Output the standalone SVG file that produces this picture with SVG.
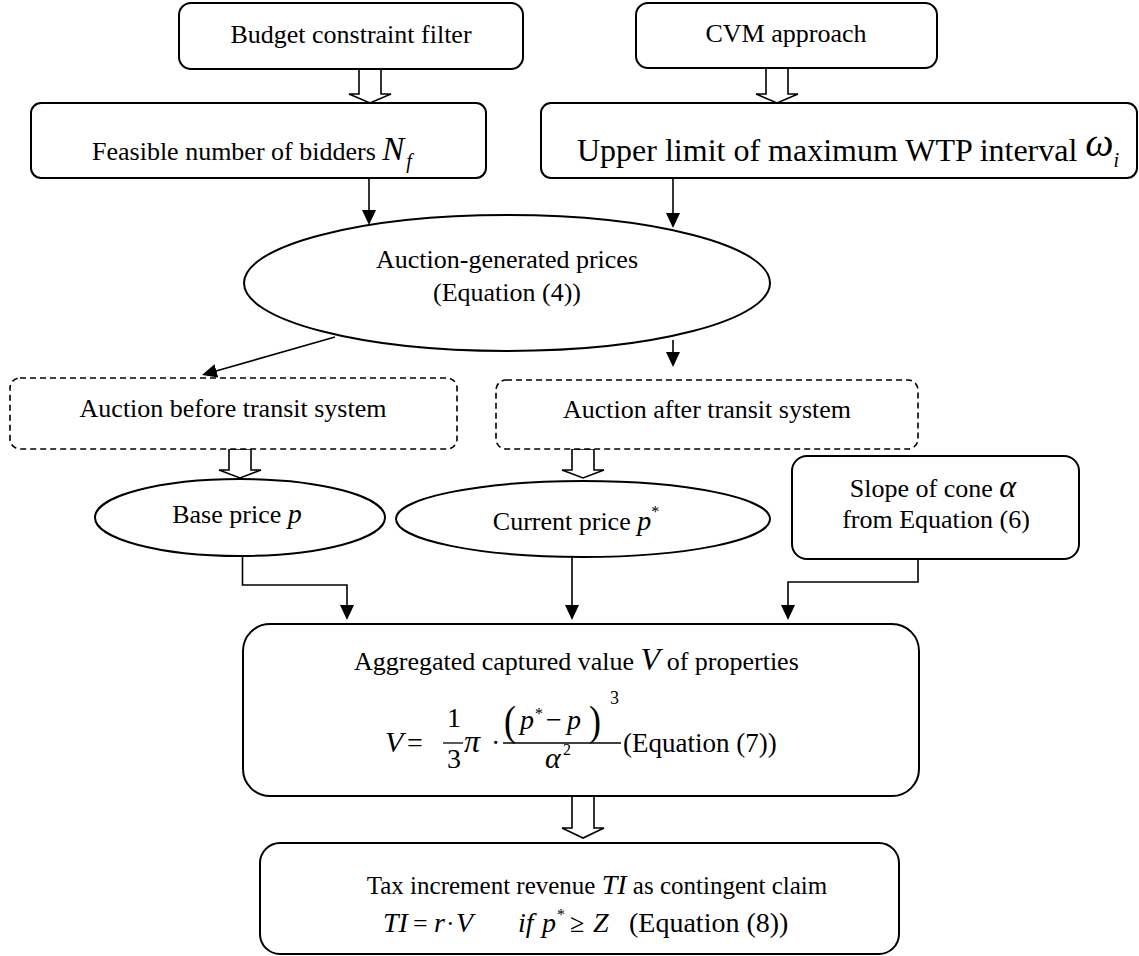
<svg xmlns="http://www.w3.org/2000/svg" width="1139" height="956" viewBox="0 0 1139 956" font-size="26">
<style>
.box{fill:#fff;stroke:#000;stroke-width:2}
.dash{fill:#fff;stroke:#000;stroke-width:1.6;stroke-dasharray:6 4}
.ell{fill:#fff;stroke:#000;stroke-width:2}
.conn{fill:none;stroke:#000;stroke-width:1.6}
.block{fill:#fff;stroke:#000;stroke-width:1.6}
.bar{stroke:#000;stroke-width:1.3}
text{font-family:"Liberation Serif","Times New Roman",serif;fill:#000}
.i{font-style:italic}
.m{text-anchor:middle}
</style>
<defs>
<marker id="ah" viewBox="0 0 15 14" refX="5" refY="7" markerWidth="15" markerHeight="14" markerUnits="userSpaceOnUse" orient="auto">
<path d="M0,0 L15,7 L0,14 z" fill="#000"/>
</marker>
</defs>
<rect width="1139" height="956" fill="#fff"/>

<g id="connectors">
<polygon class="block" points="359,69 381,69 381,94 391,94 370,103 349,94 359,94"/>
<polygon class="block" points="766,68 788,68 788,94 798,94 777,103 756,94 766,94"/>
<polygon class="block" points="229,449 251,449 251,470 261,470 240,478 219,470 229,470"/>
<polygon class="block" points="572,449 594,449 594,470 604,470 583,478 562,470 572,470"/>
<polygon class="block" points="572,796 594,796 594,828 604,828 583,838 562,828 572,828"/>
<path class="conn" d="M369,178 V215" marker-end="url(#ah)"/>
<path class="conn" d="M673,178 V218" marker-end="url(#ah)"/>
<path class="conn" d="M335,337 L211.6,372.3" marker-end="url(#ah)"/>
<path class="conn" d="M673,340 V357" marker-end="url(#ah)"/>
<path class="conn" d="M242.5,556 V585 H347 V610" marker-end="url(#ah)"/>
<path class="conn" d="M572,557 V610" marker-end="url(#ah)"/>
<path class="conn" d="M918,559 V582 H788 V610" marker-end="url(#ah)"/>
</g>

<g id="budget">
<rect class="box" x="179" y="3" width="344" height="66" rx="12"/>
<text class="m" x="351" y="43">Budget constraint filter</text>
</g>

<g id="cvm">
<rect class="box" x="636" y="3" width="301" height="65" rx="12"/>
<text class="m" x="786" y="42">CVM approach</text>
</g>

<g id="feasible">
<rect class="box" x="31" y="103" width="455" height="75" rx="10"/>
<text x="92" y="160">Feasible number of bidders <tspan class="i" font-size="33">N</tspan><tspan class="i" font-size="20" dx="2" dy="8">f</tspan></text>
</g>

<g id="upper">
<rect class="box" x="541" y="103" width="596" height="75" rx="10"/>
<text x="577" y="161" font-size="32">Upper limit of maximum WTP interval <tspan class="i" font-size="40" dy="-5">ω</tspan><tspan class="i" font-size="20" dy="11">i</tspan></text>
</g>

<g id="auction-prices">
<ellipse class="ell" cx="507" cy="283" rx="263" ry="68"/>
<text class="m" x="507" y="268">Auction-generated prices</text>
<text class="m" x="507" y="301">(Equation (4))</text>
</g>

<g id="before">
<rect class="dash" x="10" y="378" width="447" height="71" rx="10"/>
<text class="m" x="233" y="417">Auction before transit system</text>
</g>

<g id="after">
<rect class="dash" x="496" y="380" width="422" height="69" rx="10"/>
<text class="m" x="707" y="418">Auction after transit system</text>
</g>

<g id="base">
<ellipse class="ell" cx="240" cy="517.5" rx="145" ry="38.5"/>
<text class="m" x="237" y="523">Base price <tspan class="i" font-size="28">p</tspan></text>
</g>

<g id="current">
<ellipse class="ell" cx="583" cy="519" rx="187" ry="38"/>
<text class="m" x="576" y="530">Current price <tspan class="i" font-size="28">p</tspan><tspan font-size="16" dy="-13">*</tspan></text>
</g>

<g id="slope">
<rect class="box" x="792" y="456" width="287" height="103" rx="15"/>
<text class="m" x="933" y="497">Slope of cone  <tspan class="i" font-size="32">α</tspan></text>
<text class="m" x="936" y="528">from Equation (6)</text>
</g>

<g id="aggregated">
<rect class="box" x="243" y="624" width="676" height="172" rx="27"/>
<text x="354" y="670">Aggregated captured value <tspan class="i" font-size="32">V</tspan> of properties</text>
<text class="i" x="385" y="752" font-size="30">V</text>
<text x="407" y="752" font-size="28">=</text>
<text x="447" y="727" font-size="28">1</text>
<line class="bar" x1="443" y1="743" x2="463" y2="743"/>
<text x="447" y="768" font-size="28">3</text>
<text class="i" x="464" y="752" font-size="32">π</text>
<text x="491" y="752" font-size="28">·</text>
<text transform="translate(504,735) scale(1,1.2)" font-size="36">(</text>
<text class="i" x="520" y="729" font-size="28">p</text>
<text x="535" y="719" font-size="16">*</text>
<text x="546" y="729" font-size="28">−</text>
<text class="i" x="567" y="729" font-size="28">p</text>
<text transform="translate(589,735) scale(1,1.2)" font-size="36">)</text>
<text x="610" y="704" font-size="18">3</text>
<line class="bar" x1="503" y1="743" x2="621" y2="743"/>
<text class="i" x="545" y="768" font-size="30">α</text>
<text x="563" y="755" font-size="16">2</text>
<text x="623" y="752" font-size="27">(Equation (7))</text>
</g>

<g id="tax">
<rect class="box" x="260" y="843" width="639" height="111" rx="20"/>
<text class="m" x="597" y="894" font-size="25">Tax increment revenue <tspan class="i" font-size="28">TI</tspan> as contingent claim</text>
<text class="i" x="383" y="932" font-size="28">TI</text>
<text x="413" y="932">=</text>
<text class="i" x="434" y="932" font-size="28">r</text>
<text x="446" y="932">·</text>
<text class="i" x="456" y="932" font-size="28">V</text>
<text class="i" x="518" y="932" font-size="28">if</text>
<text class="i" x="542" y="932" font-size="28">p</text>
<text x="557" y="920" font-size="16">*</text>
<text x="570" y="932">≥</text>
<text class="i" x="593" y="932" font-size="28">Z</text>
<text x="629" y="932" font-size="28">(Equation (8))</text>
</g>
</svg>
